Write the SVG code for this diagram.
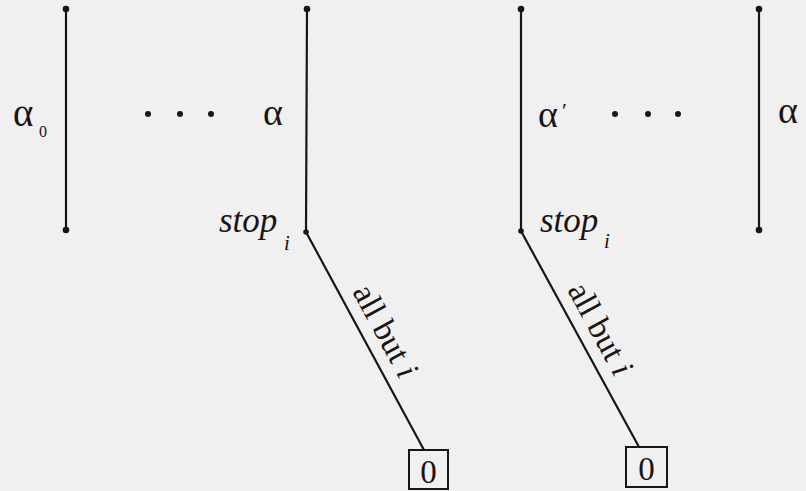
<svg xmlns="http://www.w3.org/2000/svg" width="806" height="491" viewBox="0 0 806 491">
<style>
.ln{stroke:#1a1414;stroke-width:2.2;fill:none}
.dot{fill:#1a1414}
text{font-family:"Liberation Serif","Times New Roman","DejaVu Serif",serif;fill:#1a1414}
.it{font-style:italic}
.box{fill:none;stroke:#1a1414;stroke-width:2}
</style>
<rect width="806" height="491" fill="#f0f0f0"/>
<g id="connectors">
<line class="ln" x1="66" y1="9" x2="66" y2="230"/>
<line class="ln" x1="307" y1="9" x2="306" y2="232"/>
<line class="ln" x1="306" y1="232" x2="424" y2="450"/>
<line class="ln" x1="521" y1="9" x2="521" y2="231"/>
<line class="ln" x1="521" y1="231" x2="639" y2="447"/>
<line class="ln" x1="759" y1="9" x2="759" y2="230"/>
</g>
<g id="branch-alpha0">
<circle class="dot" cx="66" cy="9" r="3.3"/>
<circle class="dot" cx="66" cy="230" r="3.3"/>
<text x="13" y="126" font-size="39">α</text>
<text x="39" y="137" font-size="16">0</text>
</g>
<g id="ellipsis-left">
<circle class="dot" cx="148" cy="114" r="3"/>
<circle class="dot" cx="180" cy="114" r="3"/>
<circle class="dot" cx="211" cy="114" r="3"/>
</g>
<g id="branch-alpha">
<circle class="dot" cx="307" cy="9" r="3.3"/>
<circle class="dot" cx="306" cy="232" r="2.8"/>
<text x="263" y="125" font-size="38">α</text>
<text class="it" x="219" y="232" font-size="35">stop</text>
<text class="it" x="284" y="250" font-size="21">i</text>
<text font-size="33" text-anchor="middle" transform="translate(365,341) rotate(61.5) translate(1,-12)">all but <tspan class="it">i</tspan></text>
</g>
<g id="leaf-1">
<rect class="box" x="409" y="450" width="39" height="39"/>
<text x="428.5" y="483" font-size="33" text-anchor="middle">0</text>
</g>
<g id="branch-alpha-prime">
<circle class="dot" cx="521" cy="9" r="3.3"/>
<circle class="dot" cx="521" cy="231" r="2.8"/>
<text x="538" y="127" font-size="38">α</text>
<text x="562" y="118" font-size="22">′</text>
<text class="it" x="540" y="232" font-size="35">stop</text>
<text class="it" x="604" y="248" font-size="21">i</text>
<text font-size="33" text-anchor="middle" transform="translate(580,339) rotate(61.4) translate(1,-12)">all but <tspan class="it">i</tspan></text>
</g>
<g id="leaf-2">
<rect class="box" x="626" y="447" width="41" height="40"/>
<text x="646.5" y="480" font-size="33" text-anchor="middle">0</text>
</g>
<g id="ellipsis-right">
<circle class="dot" cx="615" cy="114" r="3"/>
<circle class="dot" cx="648" cy="114" r="3"/>
<circle class="dot" cx="678" cy="114" r="3"/>
</g>
<g id="branch-alpha-last">
<circle class="dot" cx="759" cy="9" r="3.3"/>
<circle class="dot" cx="759" cy="230" r="3.3"/>
<text x="778" y="123" font-size="38">α</text>
</g>
</svg>
